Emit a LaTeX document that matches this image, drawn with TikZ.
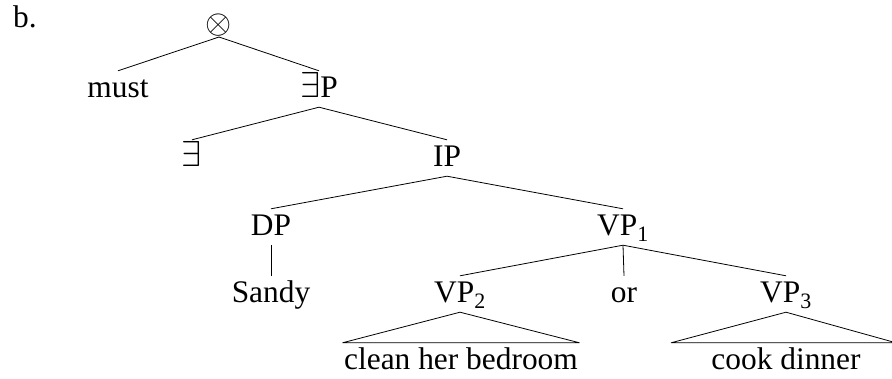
\documentclass[tikz,border=0pt]{standalone}
\usepackage{fontspec}
\setmainfont{Liberation Serif}
\usetikzlibrary{calc}
\tikzset{
  lbl/.style={anchor=base, inner xsep=1.5pt, inner ysep=3pt, text height=24pt, text depth=6pt},
  edge/.style={line width=0.8pt},
}
\newcommand{\bigex}{\scalebox{1.45}{$\exists$}}
\begin{document}
\begin{tikzpicture}[x=1pt,y=-1pt,font=\fontsize{31.4}{36}\selectfont]
\useasboundingbox (0,0) rectangle (892,379);
\node[anchor=base west, inner sep=0pt] (ex) at (13,28) {b.};
\node[inner sep=0pt] (top) at (219,25) {\scalebox{1.35}{$\otimes$}};
\node[lbl] (must) at (118,98) {must};
\node[lbl] (EP) at (319,98) {\bigex P};
\node[lbl] (E) at (192,167) {\bigex};
\node[lbl] (IP) at (447,167) {IP};
\node[lbl] (DP) at (271,236) {DP};
\node[lbl] (VP1) at (623,236) {VP\textsubscript{1}};
\node[lbl] (Sandy) at (271,303) {Sandy};
\node[lbl] (VP2) at (460,303) {VP\textsubscript{2}};
\node[lbl] (or) at (624,303) {or};
\node[lbl] (VP3) at (786,303) {VP\textsubscript{3}};
\node[lbl] (clean) at (461,370) {clean her bedroom};
\node[lbl] (cook) at (786,370) {cook dinner};

\draw[edge] ($(top.center)+(0,12)$) -- (must.north);
\draw[edge] ($(top.center)+(0,12)$) -- (EP.north);
\draw[edge] (EP.south) -- (E.north);
\draw[edge] (EP.south) -- (IP.north);
\draw[edge] (IP.south) -- (DP.north);
\draw[edge] (IP.south) -- (VP1.north);
\draw[edge] (DP.south) -- (Sandy.north);
\draw[edge] (VP1.south) -- (VP2.north);
\draw[edge] (VP1.south) -- (or.north);
\draw[edge] (VP1.south) -- (VP3.north);
\draw[edge, line join=bevel] (VP2.south) -- (clean.north west) -- (clean.north east) -- cycle;
\draw[edge, line join=bevel] (VP3.south) -- ($(cook.north)+(-115,0)$) -- ($(cook.north)+(110,0)$) -- cycle;
\end{tikzpicture}
\end{document}
